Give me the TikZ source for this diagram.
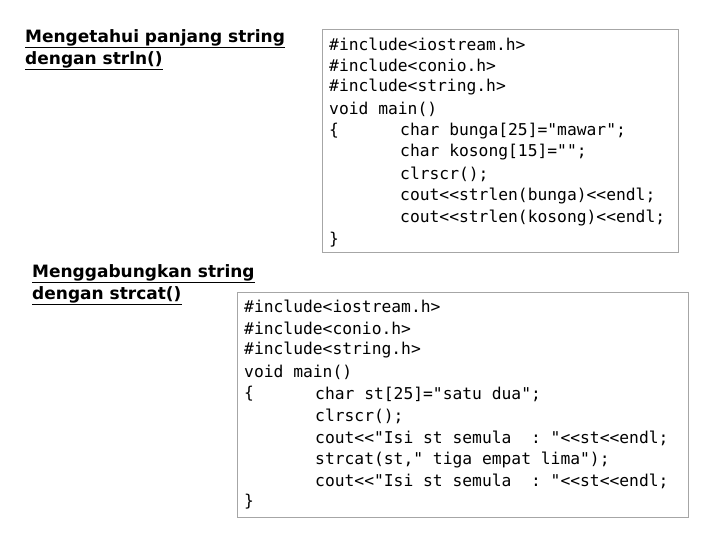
\documentclass[tikz,border=0pt]{standalone}
\usepackage{fontspec}
\setmonofont{DejaVu Sans Mono}
\setsansfont{DejaVu Sans}
\tikzset{
  codeline/.style={anchor=west, inner sep=0pt, font=\ttfamily\fontsize{16.3}{18}\selectfont},
  headline/.style={anchor=west, inner sep=0pt, font=\sffamily\bfseries\fontsize{17}{19}\selectfont},
  codebox/.style={draw=gray!70, line width=1pt, fill=white}
}
\begin{document}
\begin{tikzpicture}[x=1pt, y=-1pt]
  \useasboundingbox (0,0) rectangle (720,540);

  % Headings
  \node[headline] (hA) at (25,39) {\underline{Mengetahui panjang string}};
  \node[headline] (hB) at (25,61) {\underline{dengan strln()}};
  \node[headline] (hC) at (32,274) {\underline{Menggabungkan string}};
  \node[headline] (hD) at (32,296) {\underline{dengan strcat()}};

  % Upper code box
  \draw[codebox] (322,30) rectangle (678,252);
  \def \xA {329}
  \def \xT {400}
  \node[codeline] (a1) at (\xA,44) {\#include<iostream.h>};
  \node[codeline] (a2) at (\xA,65.7) {\#include<conio.h>};
  \node[codeline] (a3) at (\xA,87.4) {\#include<string.h>};
  \node[codeline] (a4) at (\xA,109.1) {void main()};
  \node[codeline] (a5) at (\xA,130.8) {\{};
  \node[codeline] (a6) at (\xT,130.8) {char bunga[25]="mawar";};
  \node[codeline] (a7) at (\xT,152.5) {char kosong[15]="";};
  \node[codeline] (a8) at (\xT,174.2) {clrscr();};
  \node[codeline] (a9) at (\xT,195.9) {cout<<strlen(bunga)<<endl;};
  \node[codeline] (a10) at (\xT,217.6) {cout<<strlen(kosong)<<endl;};
  \node[codeline] (a11) at (\xA,239.3) {\}};

  % Lower code box
  \draw[codebox] (237,292) rectangle (688,517);
  \def \xB {244}
  \def \xU {315}
  \node[codeline] (b1) at (\xB,306) {\#include<iostream.h>};
  \node[codeline] (b2) at (\xB,328) {\#include<conio.h>};
  \node[codeline] (b3) at (\xB,350) {\#include<string.h>};
  \node[codeline] (b4) at (\xB,372) {void main()};
  \node[codeline] (b5) at (\xB,394) {\{};
  \node[codeline] (b6) at (\xU,394) {char st[25]="satu dua";};
  \node[codeline] (b7) at (\xU,416) {clrscr();};
  \node[codeline] (b8) at (\xU,438) {cout<<"Isi st semula~ : "<<st<<endl;};
  \node[codeline] (b9) at (\xU,460) {strcat(st," tiga empat lima");};
  \node[codeline] (b10) at (\xU,481) {cout<<"Isi st semula~ : "<<st<<endl;};
  \node[codeline] (b11) at (\xB,502) {\}};

\end{tikzpicture}
\end{document}
